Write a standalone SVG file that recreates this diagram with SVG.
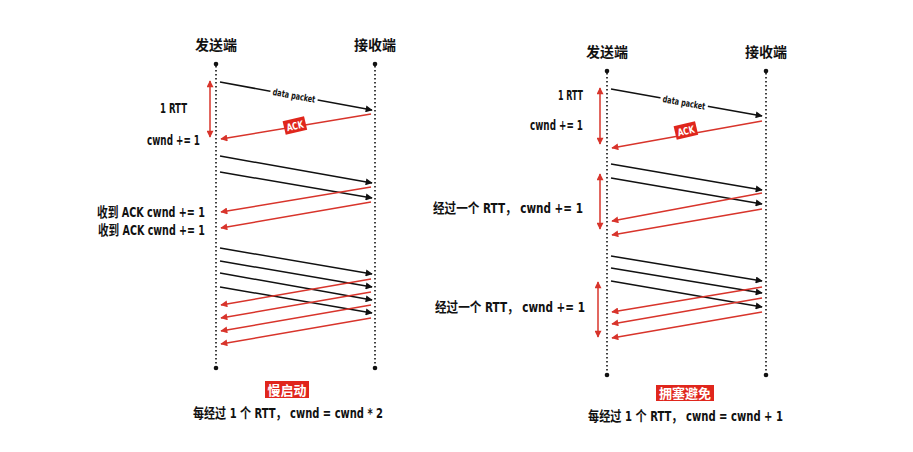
<svg xmlns="http://www.w3.org/2000/svg" width="913" height="452" viewBox="0 0 913 452">
<defs>
<style>
.t{font-family:"DejaVu Sans Condensed","Noto Sans CJK SC",sans-serif;font-weight:bold;fill:#111;font-size:13.5px;}
.c{font-size:14px;}
.h{font-family:"Noto Sans CJK SC",sans-serif;font-weight:bold;font-size:14px;fill:#111;}
.life{stroke:#111;stroke-width:1.6;stroke-dasharray:1.6 2.4;fill:none;}
.blk{stroke:#111;stroke-width:1.5;fill:none;marker-end:url(#ab);}
.red{stroke:#d8342b;stroke-width:1.5;fill:none;marker-end:url(#ar);}
.rtt{stroke:#d8342b;stroke-width:1.5;fill:none;marker-start:url(#ar2);marker-end:url(#ar);}
.badge{fill:#e0261c;}
.bt{font-family:"Noto Sans CJK SC",sans-serif;font-weight:bold;font-size:13px;fill:#fff;}
.ack{font-family:"DejaVu Sans Condensed",sans-serif;font-weight:bold;font-size:10px;fill:#fff;}
.dp{font-family:"DejaVu Sans Condensed",sans-serif;font-weight:bold;font-size:9.5px;fill:#111;}
</style>
<marker id="ab" viewBox="0 0 10 10" refX="9" refY="5" markerWidth="8" markerHeight="7" markerUnits="userSpaceOnUse" orient="auto"><path d="M0,0 L10,5 L0,10 z" fill="#111"/></marker>
<marker id="ar" viewBox="0 0 10 10" refX="9" refY="5" markerWidth="8" markerHeight="7" markerUnits="userSpaceOnUse" orient="auto"><path d="M0,0 L10,5 L0,10 z" fill="#d8342b"/></marker>
<marker id="ar2" viewBox="0 0 10 10" refX="1" refY="5" markerWidth="8" markerHeight="7" markerUnits="userSpaceOnUse" orient="auto"><path d="M10,0 L0,5 L10,10 z" fill="#d8342b"/></marker>
</defs>
<rect width="913" height="452" fill="#fff"/>

<!-- Left diagram: slow start -->
<g id="left-sender">
<text class="h" x="216" y="50" text-anchor="middle">发送端</text>
<circle cx="216" cy="64" r="2.3" fill="#111"/>
<line class="life" x1="216" y1="66" x2="216" y2="366"/>
<circle cx="216" cy="368" r="2.3" fill="#111"/>
</g>
<g id="left-receiver">
<text class="h" x="375" y="50" text-anchor="middle">接收端</text>
<circle cx="375" cy="64" r="2.3" fill="#111"/>
<line class="life" x1="375" y1="66" x2="375" y2="366"/>
<circle cx="375" cy="368" r="2.3" fill="#111"/>
</g>

<g id="left-labels">
<text class="t" x="160" y="113" textLength="27" lengthAdjust="spacingAndGlyphs">1 RTT</text>
<text class="t" x="147" y="145" textLength="53" lengthAdjust="spacingAndGlyphs">cwnd += 1</text>
<text class="t" x="97" y="217" textLength="108" lengthAdjust="spacingAndGlyphs">收到 ACK cwnd += 1</text>
<text class="t" x="98" y="235" textLength="107" lengthAdjust="spacingAndGlyphs">收到 ACK cwnd += 1</text>
</g>
<g id="left-caption">
<rect class="badge" x="265" y="381" width="44" height="17"/>
<text class="bt" x="287" y="394.5" text-anchor="middle">慢启动</text>
<text class="t c" x="193" y="418" textLength="190" lengthAdjust="spacingAndGlyphs">每经过 1 个 RTT， cwnd = cwnd * 2</text>
</g>

<!-- Right diagram: congestion avoidance -->
<g id="right-sender">
<text class="h" x="607" y="57" text-anchor="middle">发送端</text>
<circle cx="607" cy="71" r="2.3" fill="#111"/>
<line class="life" x1="607" y1="73" x2="607" y2="373"/>
<circle cx="607" cy="375" r="2.3" fill="#111"/>
</g>
<g id="right-receiver">
<text class="h" x="766" y="57" text-anchor="middle">接收端</text>
<circle cx="766" cy="71" r="2.3" fill="#111"/>
<line class="life" x1="766" y1="73" x2="766" y2="373"/>
<circle cx="766" cy="375" r="2.3" fill="#111"/>
</g>
<g id="right-labels">
<text class="t" x="558" y="100" textLength="25" lengthAdjust="spacingAndGlyphs">1 RTT</text>
<text class="t" x="530" y="130" textLength="53" lengthAdjust="spacingAndGlyphs">cwnd += 1</text>
<text class="t" x="433" y="213" textLength="150" lengthAdjust="spacingAndGlyphs">经过一个 RTT， cwnd += 1</text>
<text class="t" x="435" y="312" textLength="150" lengthAdjust="spacingAndGlyphs">经过一个 RTT， cwnd += 1</text>
</g>
<g id="right-caption">
<rect class="badge" x="656" y="385" width="58" height="16"/>
<text class="bt" x="685" y="398" text-anchor="middle">拥塞避免</text>
<text class="t c" x="588" y="421" textLength="195" lengthAdjust="spacingAndGlyphs">每经过 1 个 RTT， cwnd = cwnd + 1</text>
</g>

<g id="connectors">
<!-- left -->
<line class="rtt" x1="210" y1="81" x2="210" y2="137"/>
<line class="blk" x1="220" y1="82" x2="372" y2="110"/>
<g transform="translate(294,96) rotate(10.6)">
<rect x="-24" y="-6" width="48" height="11" fill="#fff"/>
<text class="dp" x="-21.5" y="3" textLength="43" lengthAdjust="spacingAndGlyphs">data packet</text>
</g>
<line class="red" x1="371" y1="114" x2="221" y2="139"/>
<g transform="translate(295,126) rotate(-13)">
<rect class="badge" x="-11" y="-7.5" width="22" height="14"/>
<text class="ack" x="-8.5" y="3.5" textLength="17" lengthAdjust="spacingAndGlyphs">ACK</text>
</g>
<line class="blk" x1="220" y1="156" x2="372" y2="183"/>
<line class="blk" x1="220" y1="172" x2="372" y2="198"/>
<line class="red" x1="371" y1="187" x2="221" y2="212"/>
<line class="red" x1="371" y1="202" x2="221" y2="228"/>
<line class="blk" x1="220" y1="248" x2="372" y2="274"/>
<line class="blk" x1="220" y1="261" x2="372" y2="287"/>
<line class="blk" x1="220" y1="273" x2="372" y2="300"/>
<line class="blk" x1="220" y1="287" x2="372" y2="313"/>
<line class="red" x1="371" y1="279" x2="221" y2="305"/>
<line class="red" x1="371" y1="292" x2="221" y2="318"/>
<line class="red" x1="371" y1="305" x2="221" y2="331"/>
<line class="red" x1="371" y1="318" x2="221" y2="344"/>
<!-- right -->
<line class="rtt" x1="600" y1="88" x2="600" y2="144"/>
<line class="blk" x1="611" y1="89" x2="762" y2="116"/>
<g transform="translate(684,103) rotate(10.3)">
<rect x="-24" y="-6" width="48" height="11" fill="#fff"/>
<text class="dp" x="-21.5" y="3" textLength="43" lengthAdjust="spacingAndGlyphs">data packet</text>
</g>
<line class="red" x1="762" y1="121" x2="612" y2="148"/>
<g transform="translate(686,131) rotate(-13)">
<rect class="badge" x="-11" y="-7.5" width="22" height="14"/>
<text class="ack" x="-8.5" y="3.5" textLength="17" lengthAdjust="spacingAndGlyphs">ACK</text>
</g>
<line class="rtt" x1="600" y1="174" x2="600" y2="229"/>
<line class="blk" x1="611" y1="164" x2="762" y2="190"/>
<line class="blk" x1="611" y1="178" x2="762" y2="204"/>
<line class="red" x1="762" y1="193" x2="612" y2="221"/>
<line class="red" x1="762" y1="209" x2="612" y2="235"/>
<line class="rtt" x1="598" y1="282" x2="598" y2="337"/>
<line class="blk" x1="611" y1="256" x2="762" y2="281"/>
<line class="blk" x1="611" y1="268" x2="762" y2="293"/>
<line class="blk" x1="611" y1="281" x2="762" y2="307"/>
<line class="red" x1="762" y1="287" x2="612" y2="312"/>
<line class="red" x1="762" y1="298" x2="612" y2="324"/>
<line class="red" x1="762" y1="312" x2="612" y2="338"/>
</g>
</svg>
